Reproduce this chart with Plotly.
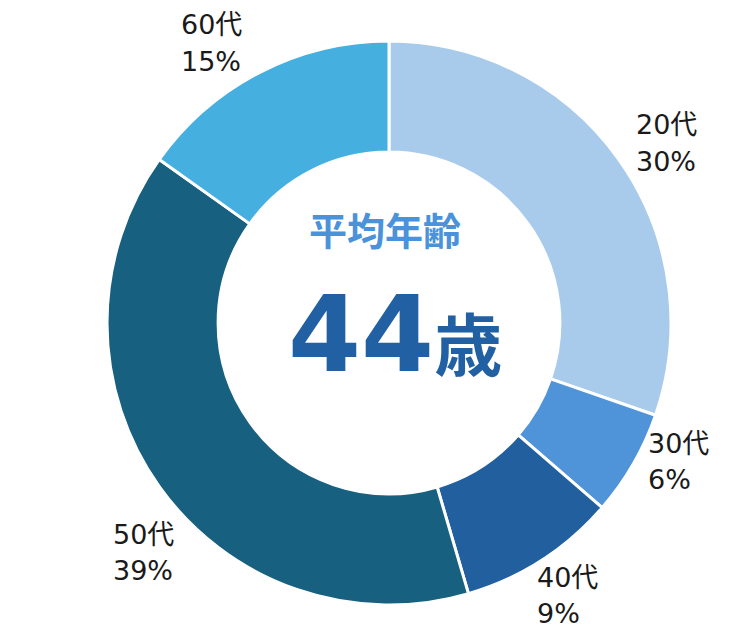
import plotly.graph_objects as go

# Age-group breakdown of employees (percent)
age_groups = ["20代", "30代", "40代", "50代", "60代"]
shares = [30, 6, 9, 39, 15]
slice_colors = ["#A8CBEC", "#4F94D9", "#225F9E", "#17607F", "#45AFE0"]

center_title = "平均年齢"
average_age = 44
age_unit = "歳"

W, H = 750, 630

fig = go.Figure(
    go.Pie(
        labels=age_groups,
        values=shares,
        sort=False,
        direction="clockwise",
        rotation=0,
        hole=0.606,
        marker=dict(colors=slice_colors, line=dict(color="white", width=3)),
        textinfo="none",
        hoverinfo="label+value",
        domain=dict(x=[107 / W, 671 / W], y=[25 / H, 589 / H]),
        showlegend=False,
    )
)

# outside labels: (left x, first-line centre y) in pixels
label_pos = {
    "20代": (634, 125),
    "30代": (646, 443),
    "40代": (535, 577),
    "50代": (111, 534),
    "60代": (179, 25),
}
line_gap = 36.5
label_font = dict(family="DejaVu Sans, Noto Sans CJK JP", size=27, color="#1a1a1a")

annotations = []
for name, val in zip(age_groups, shares):
    x, y = label_pos[name]
    for i, txt in enumerate([name, f"{val}%"]):
        annotations.append(
            dict(
                x=x / W, y=1 - (y + i * line_gap) / H,
                xref="paper", yref="paper",
                xanchor="left", yanchor="middle",
                text=txt, showarrow=False, font=label_font,
            )
        )

annotations.append(
    dict(
        x=385 / W, y=1 - 228 / H, xref="paper", yref="paper",
        xanchor="center", yanchor="middle", showarrow=False,
        text=f"<b>{center_title}</b>",
        font=dict(family="Noto Sans CJK JP", size=38, color="#4A93DA"),
    )
)
annotations.append(
    dict(
        x=395 / W, y=1 - 335 / H, xref="paper", yref="paper",
        xanchor="center", yanchor="middle", showarrow=False,
        text=(
            f"<b>{average_age}</b>"
            f"<span style='font-size:68px;font-family:Noto Sans CJK JP;font-weight:bold'>{age_unit}</span>"
        ),
        font=dict(family="DejaVu Sans", size=105, color="#2160A3"),
    )
)

fig.update_layout(
    width=W, height=H,
    margin=dict(l=0, r=0, t=0, b=0),
    paper_bgcolor="white", plot_bgcolor="white",
    annotations=annotations,
)

fig.write_html("out.html")
